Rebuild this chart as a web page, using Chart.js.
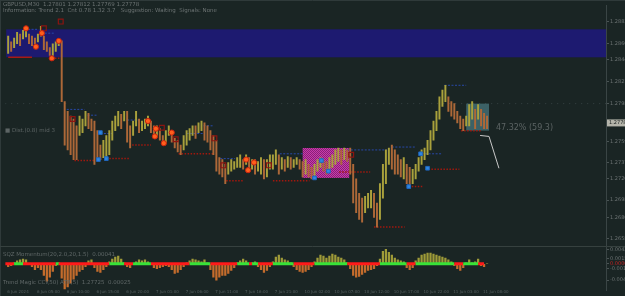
<!DOCTYPE html>
<html><head><meta charset="utf-8">
<script src="https://cdn.jsdelivr.net/npm/chart.js@4.4.1/dist/chart.umd.min.js"></script>
<style>html,body{margin:0;padding:0;background:#1a2524;overflow:hidden}canvas{display:block}</style>
</head><body>
<canvas id="c" width="625" height="296"></canvas>
<script>
// ---- data (price in chart points; candle index = time) ----
const highs = [218,212,216,222,220,224,226,220,218,216, 220,228,218,212,206,210,212,215,213,150,
  140,135,132,125,135,132,140,138,132,130, 120,105,110,115,120,130,135,140,137,140,
  140,125,130,140,132,130,132,135,130,125, 125,122,115,120,125,120,112,110,105,115,
  120,122,125,125,128,130,128,125,120,115, 110,92,90,85,87,90,88,92,95,90,
  95,92,90,90,88,92,90,90,95,95, 100,95,92,90,93,92,90,92,90,88,
  90,85,82,85,90,92,90,88,92,95, 100,102,100,102,100,102,85,70,55,50,
  52,55,58,55,45,65,85,100,102,105, 100,95,90,92,85,82,80,85,92,100,
  102,110,120,130,140,155,162,167,155,150, 148,140,135,132,135,147,150,142,147,142,
  138,135];
const lows = [200,202,206,210,208,215,217,210,208,208, 212,218,204,202,198,198,202,208,150,105,
  100,95,90,90,115,118,125,122,120,85, 90,90,92,90,95,110,120,125,122,130,
  108,102,115,125,118,120,122,125,118,112, 115,110,105,108,115,108,102,98,95,100,
  105,110,115,112,118,120,110,108,100,95, 78,75,72,65,75,78,80,82,82,80,
  85,78,80,75,78,75,70,72,80,80, 85,75,80,78,82,80,82,85,80,72,
  75,72,70,72,78,82,78,75,80,82, 85,88,85,90,88,75,45,35,28,25,
  35,40,40,30,20,28,50,65,85,80, 75,75,72,70,65,62,65,70,78,85,
  90,95,100,110,120,132,145,150,140,135, 132,128,122,120,125,125,132,122,132,125,
  122,122];
const oscillator = [-3,-2,1,3,4,5,4,-1,-3,-6, -4,-6,-12,-18,-14,-8,-2,1,-15,-26,
  -24,-20,-16,-12,-8,-6,-3,3,4,-4, -8,-9,-6,-3,2,5,7,8,5,1,
  -3,-4,-1,2,4,3,4,2,-1,-4, -5,-4,-3,-2,-3,-6,-10,-9,-6,-3,
  1,3,5,4,3,2,4,1,-6,-14, -17,-14,-12,-12,-10,-7,-4,1,3,5,
  3,-1,1,2,-3,-6,-9,-7,-3,2, 7,9,6,4,3,1,-3,-6,-8,-9,
  -8,-6,-3,2,6,9,8,6,8,10, 9,7,6,4,1,-5,-12,-14,-13,-11,
  -9,-7,-6,-5,-2,5,13,15,12,9, 6,4,3,2,-4,-6,-4,3,6,9,
  10,11,11,10,9,8,7,6,4,2, -2,-5,-7,-4,1,4,1,2,5,-2,
  -3,0];
// trend state runs: [last index of run, 1 = up(green) / 0 = down(red)]
const trendRuns = [[2,0],[5,1],[16,0],[17,1],[34,0],[39,1],[42,0],[48,1],[61,0],[68,1],[77,0],[81,1],[82,0],[84,1],[89,0],[96,1],[103,0],[114,1],[125,0],[134,1],[137,0],[150,1],[153,0],[158,1],[161,0]];

const fractalPoints = [[6,226],[11.33,221],[9.33,207],[14.67,195],[17,213],[47,130],[49.67,122],[49.33,114],[52.33,107],[55,118],[80,90],[80.67,79],[82.67,87]];
const bluePoints = [[31,118],[30.33,90],[33,91],[105.33,89],[103,71],[107.67,78],[134.67,62],[138.67,96],[141,81]];
const redMarks = [[12,226],[17.67,233],[21.67,132],[51.67,123],[56.33,111],[69.33,112],[72.33,84],[87.67,84],[115.33,95]];

// [from index, to index, level]
const supportLevels = [[22.3,29,89],[33,40.7,91],[41.7,48,105],[57.3,69,96],[73.3,79,68],[89,101.3,68],[111.3,121.7,77],[123,133.3,20],[135.7,139.7,62],[141.3,151.7,80],[152.3,159,120],[14.7,18,195]];
const resistanceLevels = [[6.7,9.7,225],[12.3,15.7,221],[19.7,25.7,142],[26.7,29.7,136],[31,35,117],[40,44.7,131],[60,65.7,117],[65.7,69,125],[71.3,76.3,91],[91.3,99,96],[114,127.3,100],[129,136.7,103],[139,145.7,96],[146.7,154,167]];
const baseLine = [[0,8,196]];
const midLevel = 148;
const projection = [[158.67,115],[161.67,114],[165,81]];

const bandZone = {top:225, bottom:196};
const magentaZone = {from:99, to:114.67, top:102, bottom:71};
const tealZone = {from:154, to:161.67, top:148, bottom:120};

const priceTicks = [233,210,194,171,148,128,109,87,70,48,30,8];
const priceLabels = ["1.2883","1.2860","1.2844","1.2821","1.2798","1.2778","1.2759","1.2737","1.2720","1.2698","1.2680","1.2658"];
const currentPrice = 128, currentLabel = "1.2778";
const oscTicks = [15,5,0,-5,-17];
const oscLabels = ["0.0042","0.0015","0.0000","-0.0012","-0.0045"];
const dateLabels = ["6 Jun 2024","6 Jun 05:00","6 Jun 10:00","6 Jun 15:00","6 Jun 20:00","7 Jun 01:00","7 Jun 06:00","7 Jun 11:00","7 Jun 16:00","7 Jun 21:00","10 Jun 02:00","10 Jun 07:00","10 Jun 12:00","10 Jun 17:00","10 Jun 22:00","11 Jun 03:00","11 Jun 08:00"];
const headerLines = ["GBPUSD,M30  1.27801 1.27812 1.27769 1.27778","Information: Trend 2.1  Cnt 0.78 1.32 3.7   Suggestion: Waiting  Signals: None"];
const oscTitle = "SQZ Momentum(20,2.0,20,1.5)  0.00041";
const trendTitle = "Trend Magic CCI(50) ATR(5)  1.27725  0.00025";
const leftNote = "\u25A0 Dist.(0.8) mid 3";
const targetNote = "47.32% (59.3)";

// ---- derived ----
const candleData = highs.map((h,i)=>({x:i, y:[lows[i], h]}));
const candleColors = highs.map((h,i)=>{const m=(h+lows[i])/2; const pm=i?(highs[i-1]+lows[i-1])/2:m; return m>=pm?'#a9a13c':'#ad6838';});
const oscData = oscillator.map((v,i)=>({x:i,y:v}));
const oscColors = oscillator.map(v=>v>=0?'#9f9b38':'#c46c2c');
function stateAt(x){for(const r of trendRuns){if(x<=r[0]-0.01) return r[1];} return trendRuns[trendRuns.length-1][1];}
const zeroData = []; for(let i=-1;i<=160;i++) zeroData.push({x:i,y:0});
function segs(list){const out=[];list.forEach(([a,b,v])=>{out.push({x:a,y:v},{x:b,y:v},{x:b,y:null});});return out;}
const pts = l=>l.map(([x,y])=>({x,y}));

const magPattern = (()=>{const c=document.createElement('canvas');c.width=2;c.height=2;const g=c.getContext('2d');g.fillStyle='#c83aaa';g.fillRect(0,0,2,2);g.fillStyle='#8a2278';g.fillRect(0,0,1,1);g.fillRect(1,1,1,1);return g.createPattern(c,'repeat');})();

const FONT='"DejaVu Sans", sans-serif';
const overlay = {
  id:'overlay',
  beforeDraw(chart){const c=chart.ctx;c.save();c.fillStyle='#1a2524';c.fillRect(0,0,chart.width,chart.height);c.restore();},
  beforeDatasetsDraw(chart){
    const c=chart.ctx, x=chart.scales.x, y=chart.scales.y, a=chart.chartArea;
    c.save();
    c.fillStyle='#1d1a70';
    const yt=y.getPixelForValue(bandZone.top), yb=y.getPixelForValue(bandZone.bottom);
    c.fillRect(a.left+1, yt, a.right-a.left-1, yb-yt);
    let x0=x.getPixelForValue(magentaZone.from), x1=x.getPixelForValue(magentaZone.to);
    let y0=y.getPixelForValue(magentaZone.top), y1=y.getPixelForValue(magentaZone.bottom);
    c.fillStyle=magPattern; c.fillRect(x0,y0,x1-x0,y1-y0);
    x0=x.getPixelForValue(tealZone.from); x1=x.getPixelForValue(tealZone.to);
    y0=y.getPixelForValue(tealZone.top); y1=y.getPixelForValue(tealZone.bottom);
    c.fillStyle='rgba(72,118,124,0.75)'; c.fillRect(x0,y0,x1-x0,y1-y0);
    c.restore();
  },
  afterDraw(chart){
    const c=chart.ctx, x=chart.scales.x, y=chart.scales.y, y2=chart.scales.y2, a=chart.chartArea;
    c.save();
    c.strokeStyle='#2f3a3a'; c.lineWidth=1;
    c.beginPath(); c.moveTo(0,0.5); c.lineTo(chart.width,0.5); c.stroke();
    c.beginPath(); c.moveTo(0.5,0); c.lineTo(0.5,chart.height); c.stroke();
    c.strokeStyle='#36413f';
    const sep=Math.round(y2.top)+0.5;
    c.beginPath(); c.moveTo(0,sep); c.lineTo(chart.width,sep); c.stroke();
    c.fillStyle='#6c7373'; c.font='5.5px '+FONT; c.textBaseline='middle'; c.textAlign='left';
    c.fillText(headerLines[0],3,5); c.fillText(headerLines[1],3,10.5);
    c.fillStyle='#5d6565';
    c.fillText(leftNote,5,y.getPixelForValue(120));
    c.fillStyle='#5b6363'; c.font='8px '+FONT;
    c.fillText(targetNote, x.getPixelForValue(164), y.getPixelForValue(123));
    c.fillStyle='#5f6767'; c.font='5.5px '+FONT;
    c.fillText(oscTitle,3,255); c.fillText(trendTitle,3,283);
    c.font='4px '+FONT; c.fillStyle='#566060';
    dateLabels.forEach((t,k)=>c.fillText(t, x.getPixelForValue(k*10)-1, 292));
    const py=y.getPixelForValue(currentPrice);
    c.fillStyle='#b4b4aa'; c.fillRect(a.right+1, py-3.5, chart.width-a.right-1, 7);
    c.fillStyle='#1a2020'; c.font='5px '+FONT; c.fillText(currentLabel, a.right+3, py);
    c.restore();
  }
};

function fixAxis(s){s.width=19; s.paddingTop=0; s.paddingBottom=0;}
const tickFont={family:'DejaVu Sans', size:5};
new Chart(document.getElementById('c'), {
  type:'bar',
  data:{datasets:[
    {type:'scatter', data:pts(fractalPoints), yAxisID:'y', pointStyle:'circle', pointRadius:2.6, backgroundColor:'#ff5f1c', borderColor:'#c8220e', borderWidth:1, order:0},
    {type:'scatter', data:pts(bluePoints), yAxisID:'y', pointStyle:'rect', pointRadius:2.6, backgroundColor:'#2e88e0', borderColor:'#1f66c0', borderWidth:1, order:0},
    {type:'scatter', data:pts(redMarks), yAxisID:'y', pointStyle:'rect', pointRadius:3.4, backgroundColor:'rgba(0,0,0,0)', borderColor:'#8c1410', borderWidth:1.2, order:0},
    {type:'bar', data:candleData, yAxisID:'y', backgroundColor:candleColors, barThickness:1.3, grouped:false, order:2},
    {type:'line', data:segs(supportLevels), yAxisID:'y', borderColor:'#a0180e', borderWidth:1.5, borderDash:[1.5,1.5], pointRadius:0, spanGaps:false, order:3},
    {type:'line', data:segs(resistanceLevels), yAxisID:'y', borderColor:'#2848a8', borderWidth:1, borderDash:[2,1.5], pointRadius:0, spanGaps:false, order:3},
    {type:'line', data:segs(baseLine), yAxisID:'y', borderColor:'#a81a14', borderWidth:1.5, pointRadius:0, order:3},
    {type:'line', data:[{x:-1,y:midLevel},{x:201,y:midLevel}], yAxisID:'y', borderColor:'rgba(110,125,125,0.35)', borderWidth:1, borderDash:[1,5], pointRadius:0, order:4},
    {type:'line', data:pts(projection), yAxisID:'y', borderColor:'#c9c9c9', borderWidth:1, pointRadius:0, order:1},
    {type:'bar', data:oscData, yAxisID:'y2', backgroundColor:oscColors, barThickness:1.6, grouped:false, order:2},
    {type:'line', data:zeroData, yAxisID:'y2', borderWidth:3, pointRadius:0, borderColor:'#ff1a1a',
      segment:{borderColor:ctx=>stateAt(ctx.p0.parsed.x)?'#38e238':'#ff1a1a'}, order:0}
  ]},
  options:{
    responsive:false, animation:false, devicePixelRatio:1,
    layout:{padding:0},
    plugins:{legend:{display:false}, tooltip:{enabled:false}},
    scales:{
      x:{type:'linear', min:-1, max:201, offset:false, display:false},
      y:{position:'right', stack:'panes', stackWeight:250, min:0, max:250,
        afterFit:fixAxis,
        afterBuildTicks:s=>{s.ticks=priceTicks.map(v=>({value:v}));},
        ticks:{autoSkip:false, font:tickFont, color:'#6b7272', padding:1, callback:(v,i)=>priceLabels[i]},
        grid:{drawOnChartArea:false, tickLength:3, color:'#4a5454'},
        border:{display:true, color:'#3a4545'}},
      y2:{position:'right', stack:'panes', stackWeight:46, min:-28, max:18,
        afterFit:fixAxis,
        afterBuildTicks:s=>{s.ticks=oscTicks.map(v=>({value:v}));},
        ticks:{autoSkip:false, font:tickFont, color:ctx=>ctx.tick&&ctx.tick.value===0?'#c02222':'#6b7272', padding:1, callback:(v,i)=>oscLabels[i]},
        grid:{drawOnChartArea:false, tickLength:3, color:'#4a5454'},
        border:{display:true, color:'#3a4545'}}
    }
  },
  plugins:[overlay]
});
</script>
</body></html>
